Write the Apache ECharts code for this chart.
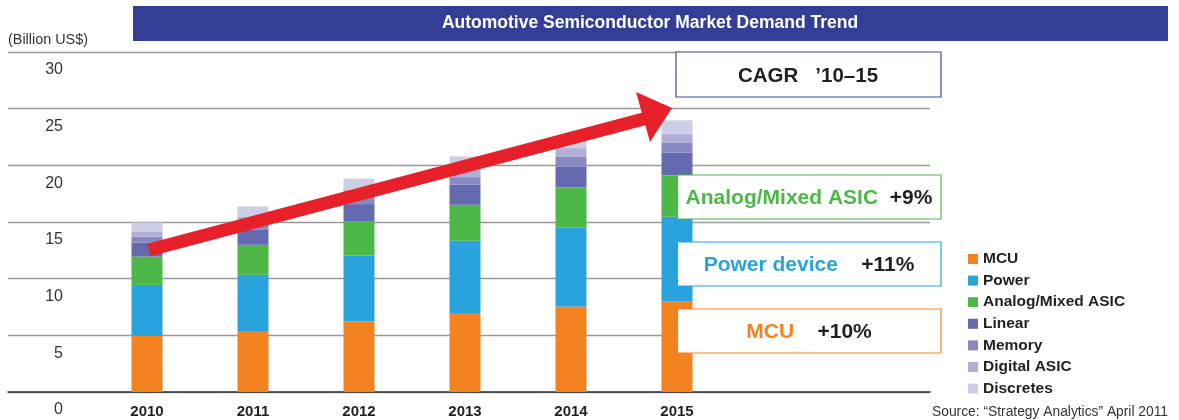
<!DOCTYPE html>
<html>
<head>
<meta charset="UTF-8">
<title>Automotive Semiconductor Market Demand Trend</title>
<script src="https://cdn.jsdelivr.net/npm/echarts@6/dist/echarts.min.js"></script>
<style>
  html, body { margin: 0; padding: 0; background: #fff; }
  #chart { width: 1179px; height: 420px; }
</style>
</head>
<body>
<div id="chart"></div>
<script>
// years and values (Billion US$)
var years = ['2010', '2011', '2012', '2013', '2014', '2015'];
var mcu         = [4.97, 5.39, 6.21, 6.98, 7.54, 7.98];
var power       = [4.48, 4.95, 5.83, 6.36, 6.97, 7.48];
var analog      = [2.50, 2.65, 3.00, 3.18, 3.54, 3.65];
var linear      = [1.24, 1.32, 1.54, 1.77, 1.85, 2.03];
var memory      = [0.53, 0.60, 0.66, 0.67, 0.89, 0.89];
var digitalAsic = [0.41, 0.55, 0.60, 0.80, 0.73, 0.76];
var discretes   = [0.83, 0.91, 0.98, 1.03, 1.00, 1.18];

var seriesNames = ['MCU', 'Power', 'Analog/Mixed ASIC', 'Linear', 'Memory', 'Digital ASIC', 'Discretes'];
var seriesData = [mcu, power, analog, linear, memory, digitalAsic, discretes];
var colors = ['#F38321', '#29A3DD', '#4DB848', '#6569B0', '#8A88C2', '#B0AFD8', '#CDCDE6'];

var yTicks = [0, 5, 10, 15, 20, 25, 30];

var FONT = '"Liberation Sans", Arial, Helvetica, sans-serif';
var chart = echarts.init(document.getElementById('chart'));

var series = seriesNames.map(function (name, i) {
    return {
        name: name,
        type: 'bar',
        stack: 'total',
        xAxisIndex: 1,
        yAxisIndex: 1,
        barWidth: 31,
        itemStyle: { color: colors[i] },
        data: seriesData[i]
    };
});

// arrow shape (annotation)
var arrowPts = [[147.3, 243.7], [641.8, 112.8], [636, 92], [672, 108], [650, 142], [645.3, 125.3], [150.7, 256.3]];

function box(x, y, w, h, stroke) {
    return {
        type: 'rect', z: 100,
        shape: { x: x, y: y, width: w, height: h },
        style: { fill: '#fff', stroke: stroke, lineWidth: 1.2 }
    };
}

function growthText(y, name, gap, pct, color) {
    return {
        type: 'text', z: 101, x: 809, y: y,
        style: {
            text: '{a|' + name + '}' + gap + '{b|' + pct + '}', align: 'center', verticalAlign: 'middle',
            rich: {
                a: { font: 'bold 21px ' + FONT, fill: color },
                b: { font: 'bold 21px ' + FONT, fill: '#231f20' }
            },
            font: 'bold 21px ' + FONT
        }
    };
}

var option = {
    animation: false,
    textStyle: { fontFamily: FONT },
    grid: [
        { left: 8, right: 249, top: 52, bottom: 28, outerBoundsMode: 'none' },
        { left: 94, right: 449, top: 52, bottom: 28, outerBoundsMode: 'none' }
    ],
    legend: {
        orient: 'vertical',
        left: 968,
        top: 251,
        padding: 0,
        itemWidth: 10,
        itemHeight: 10,
        itemGap: 5.6,
        icon: 'rect',
        data: seriesNames,
        textStyle: { fontFamily: FONT, fontSize: 15.5, fontWeight: 'bold', color: '#231f20' }
    },
    xAxis: [
        {
            gridIndex: 0, type: 'category', data: [],
            axisLine: { lineStyle: { color: '#333', width: 1.5 } },
            axisTick: { show: false }, axisLabel: { show: false }
        },
        {
            gridIndex: 1, type: 'category', data: years,
            axisLine: { show: false }, axisTick: { show: false },
            axisLabel: { fontFamily: FONT, fontSize: 15, fontWeight: 'bold', color: '#231f20', margin: 12 }
        }
    ],
    yAxis: [
        {
            gridIndex: 0, type: 'value', min: yTicks[0], max: yTicks[yTicks.length - 1], interval: 5,
            axisLine: { show: false }, axisTick: { show: false },
            splitLine: { lineStyle: { color: '#999', width: 1.3 } },
            axisLabel: {
                inside: true, margin: 55, align: 'right', verticalAlign: 'top',
                lineHeight: 36,
                fontFamily: FONT, fontSize: 16, color: '#333'
            }
        },
        {
            gridIndex: 1, type: 'value', min: yTicks[0], max: yTicks[yTicks.length - 1], interval: 5,
            show: false
        }
    ],
    series: series,
    graphic: [
        // header band
        { type: 'rect', z: 90, shape: { x: 133, y: 6, width: 1035, height: 35 }, style: { fill: '#333F97' } },
        { type: 'text', z: 91, x: 650, y: 23.5,
          style: { text: 'Automotive Semiconductor Market Demand Trend', fill: '#fff', font: 'bold 17.5px ' + FONT,
                   align: 'center', verticalAlign: 'middle' } },
        { type: 'text', z: 91, x: 8, y: 40,
          style: { text: '(Billion US$)', fill: '#333', font: '14.4px ' + FONT, verticalAlign: 'middle' } },
        { type: 'text', z: 91, x: 1168, y: 412,
          style: { text: 'Source: \u201cStrategy Analytics\u201d April 2011', fill: '#333', font: '13.8px ' + FONT,
                   align: 'right', verticalAlign: 'middle' } },

        // CAGR box
        box(676, 52, 265, 45, '#3E4B9E'),
        { type: 'text', z: 101, x: 808, y: 76,
          style: { text: 'CAGR   \u201910\u201315', fill: '#231f20', font: 'bold 20.5px ' + FONT,
                   align: 'center', verticalAlign: 'middle' } },

        // growth boxes
        box(677.5, 175, 263.5, 44, '#4DB848'),
        growthText(198, 'Analog/Mixed ASIC', '  ', '+9%', '#4DB848'),
        box(677.5, 242, 263.5, 44, '#29A3DD'),
        growthText(265, 'Power device', '    ', '+11%', '#29A3DD'),
        box(677.5, 309, 263.5, 44, '#F38321'),
        growthText(332, 'MCU', '    ', '+10%', '#F38321'),

        // red trend arrow
        { type: 'polygon', z: 110, shape: { points: arrowPts }, style: { fill: '#E8202A' } }
    ]
};

chart.setOption(option);
</script>
</body>
</html>
